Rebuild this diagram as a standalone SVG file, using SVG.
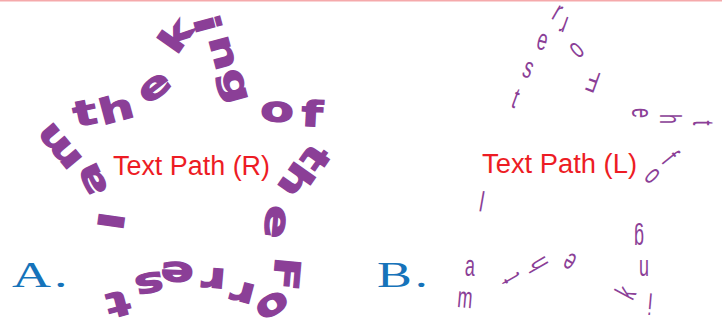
<svg xmlns="http://www.w3.org/2000/svg" width="722" height="325" viewBox="0 0 722 325">
<style>
.L{font-family:"DejaVu Sans","Liberation Sans",sans-serif;font-weight:bold;font-size:35px;fill:#8B3F97;stroke:#8B3F97;stroke-width:1.2px;text-anchor:middle}
.R{font-family:"Liberation Sans",Arial,sans-serif;font-size:30px;fill:#8B3F97;text-anchor:middle}
.lab{font-family:"Liberation Sans",Arial,sans-serif;font-size:27px;fill:#ED1C24}
.letter{font-family:"Liberation Serif","Times New Roman",serif;font-size:36px;fill:#1673BA}
</style>
<rect x="0" y="0" width="722" height="1.5" fill="#F5A9AB"/>
<g id="figA">
<text class="L" transform="translate(111,221) rotate(-82) scale(1.4,1)" y="12.8">I</text>
<text class="L" transform="translate(93,179) rotate(-115) scale(1.4,1)" y="9.5">a</text>
<text class="L" transform="translate(60,146) rotate(-130) scale(1.4,1)" y="9.5">m</text>
<text class="L" transform="translate(85,113) rotate(-12) scale(1.4,1)" y="12">t</text>
<text class="L" transform="translate(116,108) rotate(-15) scale(1.4,1)" y="13.3">h</text>
<text class="L" transform="translate(155,88) rotate(-38) scale(1.4,1)" y="9.5">e</text>
<text class="L" transform="translate(175,35) rotate(-55) scale(1.4,1)" y="13.3">k</text>
<text class="L" transform="translate(208,24) rotate(75) scale(1.4,1)" y="13.3">i</text>
<text class="L" transform="translate(222,53) rotate(75) scale(1.4,1)" y="9.5">n</text>
<text class="L" transform="translate(231,87) rotate(75) scale(1.4,1)" y="6">g</text>
<text class="L" transform="translate(277,112) rotate(3) scale(1.4,1)" y="9.5">o</text>
<text class="L" transform="translate(312,113) rotate(3) scale(1.4,1)" y="13.3">f</text>
<text class="L" transform="translate(315,158) rotate(125) scale(1.4,1)" y="12">t</text>
<text class="L" transform="translate(297,181) rotate(125) scale(1.4,1)" y="13.3">h</text>
<text class="L" transform="translate(275,222) rotate(95) scale(1.4,1)" y="9.5">e</text>
<text class="L" transform="translate(287,274) rotate(95) scale(1.4,1)" y="12.8">F</text>
<text class="L" transform="translate(272,305) rotate(150) scale(1.4,1)" y="9.5">o</text>
<text class="L" transform="translate(243,292) rotate(195) scale(1.4,1)" y="9.5">r</text>
<text class="L" transform="translate(214,278) rotate(185) scale(1.4,1)" y="9.5">r</text>
<text class="L" transform="translate(177,272) rotate(182) scale(1.4,1)" y="9.5">e</text>
<text class="L" transform="translate(149,283) rotate(170) scale(1.4,1)" y="9.5">s</text>
<text class="L" transform="translate(118,304) rotate(165) scale(1.4,1)" y="12">t</text>
</g>
<g id="figB">
<text class="R" transform="translate(482,201) rotate(10) scale(0.6,1)" y="10.7">I</text>
<text class="R" transform="translate(470,268) rotate(3) scale(0.6,1)" y="7.8">a</text>
<text class="R" transform="translate(465,300) rotate(5) scale(0.6,1)" y="7.8">m</text>
<text class="R" transform="translate(510,279) rotate(-120) scale(0.6,1)" y="10.3">t</text>
<text class="R" transform="translate(537,265) rotate(-120) scale(0.6,1)" y="11">h</text>
<text class="R" transform="translate(570,261) rotate(-150) scale(0.6,1)" y="7.8">e</text>
<text class="R" transform="translate(625,292) rotate(-62) scale(0.6,1)" y="11">k</text>
<text class="R" transform="translate(650,304) rotate(185) scale(0.6,1)" y="10.7">i</text>
<text class="R" transform="translate(644,268) rotate(180) scale(0.6,1)" y="7.8">n</text>
<text class="R" transform="translate(639,234) rotate(180) scale(0.6,1)" y="4.6">g</text>
<text class="R" transform="translate(652,176) rotate(45) scale(0.6,1)" y="7.8">o</text>
<text class="R" transform="translate(671,157) rotate(51) scale(0.6,1)" y="11">f</text>
<text class="R" transform="translate(703,123) rotate(90) scale(0.6,1)" y="10.3">t</text>
<text class="R" transform="translate(671,119) rotate(90) scale(0.6,1)" y="11">h</text>
<text class="R" transform="translate(640,113) rotate(90) scale(0.6,1)" y="7.8">e</text>
<text class="R" transform="translate(593,82) rotate(200) scale(0.6,1)" y="10.7">F</text>
<text class="R" transform="translate(577,50) rotate(-41) scale(0.6,1)" y="7.8">o</text>
<text class="R" transform="translate(564,24) rotate(200) scale(0.6,1)" y="7.8">r</text>
<text class="R" transform="translate(557,13) rotate(30) scale(0.6,1)" y="7.8">r</text>
<text class="R" transform="translate(542,42) rotate(15) scale(0.6,1)" y="7.8">e</text>
<text class="R" transform="translate(528,70) rotate(20) scale(0.6,1)" y="7.8">s</text>
<text class="R" transform="translate(516,98) rotate(20) scale(0.6,1)" y="10.3">t</text>
</g>
<g id="labels">
<text class="lab" x="113" y="175" textLength="157" lengthAdjust="spacingAndGlyphs">Text Path (R)</text>
<text class="lab" x="482" y="173" textLength="155" lengthAdjust="spacingAndGlyphs">Text Path (L)</text>
<text class="letter" transform="translate(12,287) scale(1.5,1)">A<tspan dx="2">.</tspan></text>
<text class="letter" transform="translate(377,287) scale(1.45,1)">B<tspan dx="2">.</tspan></text>
</g>
</svg>
